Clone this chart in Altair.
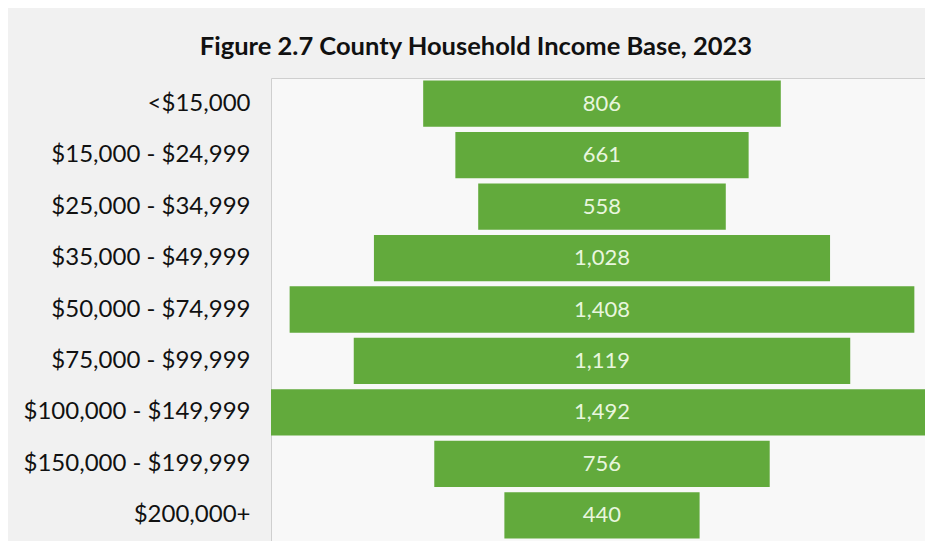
import altair as alt
import pandas as pd

categories = ["<$15,000", "$15,000 - $24,999", "$25,000 - $34,999", "$35,000 - $49,999",
              "$50,000 - $74,999", "$75,000 - $99,999", "$100,000 - $149,999",
              "$150,000 - $199,999", "$200,000+"]
households = [806, 661, 558, 1028, 1408, 1119, 1492, 756, 440]

df = pd.DataFrame({"cat": categories, "v": households})
df["lo"] = -df["v"] / 2
df["hi"] = df["v"] / 2
df["label"] = df["v"].map(lambda x: f"{x:,}")

FONT = "Lato"
# right side of the plot is cut by the picture edge, as in the reference
xs = alt.Scale(domain=[-746, 728], nice=False, zero=False)
ys = alt.Scale(domain=categories, paddingInner=0.1, paddingOuter=0.05)

base = alt.Chart(df)
bars = base.mark_bar(color="#62aa3c", clip=True).encode(
    x=alt.X("lo:Q", scale=xs, axis=None),
    x2="hi:Q",
    y=alt.Y("cat:N", scale=ys, sort=categories, title=None,
            axis=alt.Axis(labelFont=FONT, labelFontSize=24, labelColor="#111111",
                          ticks=False, domain=False, labelPadding=21, labelLimit=400)),
)
texts = base.mark_text(font=FONT, fontSize=22, color="#e8f6de", baseline="middle").encode(
    x=alt.datum(0),
    y=alt.Y("cat:N", scale=ys, sort=categories),
    text="label:N",
)

chart = (bars + texts).properties(
    width=654, height=463,
    autosize=alt.AutoSizeParams(type="none"),
    padding={"left": 263, "top": 70, "right": 0, "bottom": 0},
    background="#f1f1f1",
    title=alt.TitleParams("Figure 2.7 County Household Income Base, 2023",
                          font=FONT, fontSize=25.5, fontWeight="bold", color="#111111",
                          anchor="middle", dx=-122, offset=18),
).configure_view(fill="#f8f8f8", stroke="#cfcfcf", strokeWidth=1)

chart.save("out.html", embed_options={"renderer": "svg", "actions": False})
